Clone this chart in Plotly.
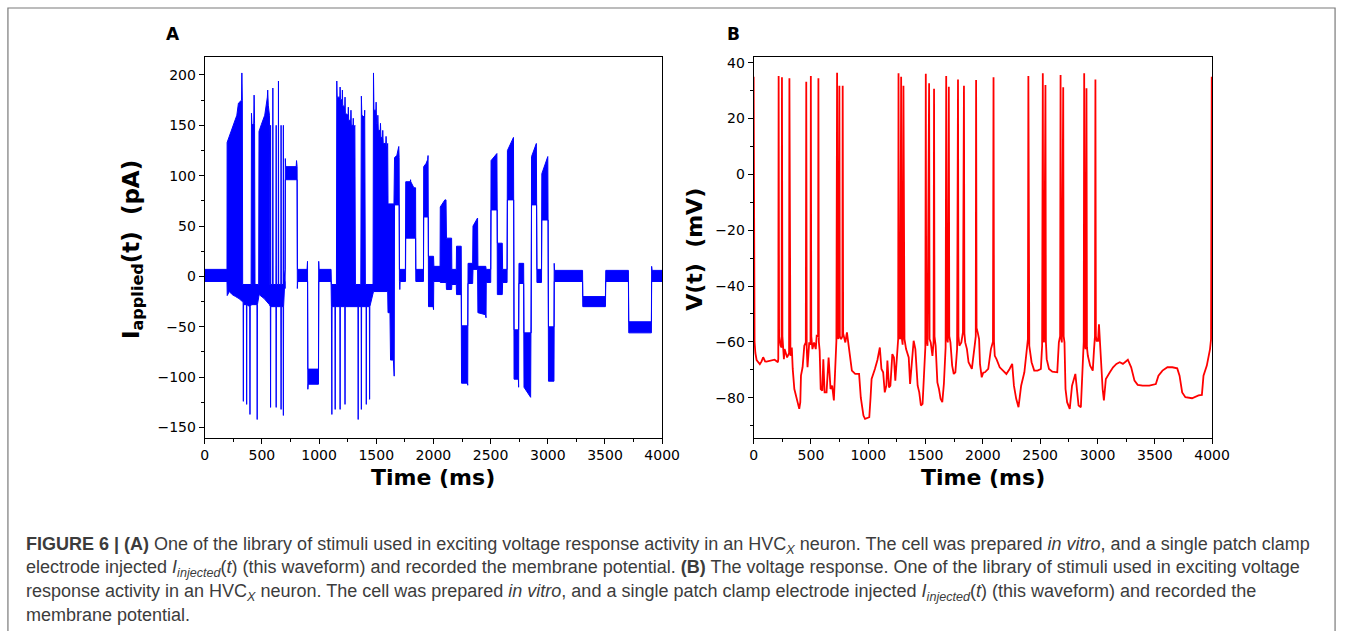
import plotly.graph_objects as go

W, H = 1357, 631

# ---------------- data ----------------
# Panel A: applied current (pA) vs time (ms); the dense trace is described by
# its upper and lower edges (t, value).
A_UPPER = [
    (0, 7), (195, 7),
    (196, 133), (218, 140), (238, 146), (252, 150), (267, 154), (281, 160), (295, 172),
    (322, 175), (325, 202), (329, 175), (332, -8),
    (406, -8), (409, 162), (413, 150), (429, 152), (432, 180), (436, 152), (440, -8),
    (472, -8), (475, 144), (496, 151), (525, 160), (548, 178), (551, 185), (556, 170),
    (566, 160), (570, -8),
    (574, -8), (576, 150), (578, -8), (594, -8), (596, 187), (598, -8),
    (623, -8), (625, 150), (627, -8), (643, -8), (645, 194), (647, -8),
    (666, -8), (668, 150), (670, -8), (686, -8), (688, 150), (690, -8),
    (703, 7), (705, 117), (708, 109), (800, 109), (803, 115), (808, 109), (811, 7),
    (895, 7), (899, 15), (902, -92), (995, -92), (997, 15), (1000, 7),
    (1105, 7), (1108, -8), (1152, -8),
    (1155, 194), (1158, 178), (1182, 178), (1184, 188), (1187, 176), (1202, 175),
    (1204, 185), (1207, 170), (1225, 168), (1227, 178), (1230, 162), (1254, 160),
    (1256, 168), (1259, 155), (1277, 155), (1279, 165), (1282, 150), (1297, 150),
    (1299, 157), (1302, 145), (1313, 150), (1318, -8),
    (1365, -8), (1370, 179), (1374, 160), (1397, 158), (1399, 165), (1405, -8),
    (1472, -8), (1476, 202), (1480, 165), (1497, 165), (1499, 173), (1503, 152),
    (1512, 152), (1514, 160), (1518, 145), (1535, 145), (1537, 152), (1541, 138),
    (1555, 138), (1557, 145), (1561, 132), (1584, 132), (1586, 139), (1590, 126),
    (1600, 132),
    (1603, 72), (1655, 72), (1660, 118), (1680, 120), (1697, 129), (1700, 118), (1703, 7),
    (1755, 7), (1758, 94), (1798, 94), (1800, 96), (1802, 94), (1829, 88), (1844, 88),
    (1846, 7), (1913, 7), (1915, 109), (1935, 112), (1950, 116), (1953, 120),
    (1956, 20), (2001, 20), (2004, 10), (2058, 10),
    (2060, 69), (2100, 76), (2110, 76), (2114, 38), (2159, 38), (2161, 7),
    (2200, 7), (2202, 30), (2243, 30), (2246, -49), (2300, -49), (2303, 13),
    (2343, 13), (2346, 50), (2386, 58), (2389, 10), (2458, 10), (2461, 7),
    (2501, 7), (2504, 115), (2555, 122), (2559, 33), (2602, 33), (2605, 7),
    (2644, 7), (2647, 125), (2700, 138), (2705, -53), (2745, -53), (2748, 13),
    (2789, 13), (2792, -56), (2855, -56), (2858, 119), (2900, 132), (2905, 7),
    (2945, 7), (2948, 102), (3000, 119), (3006, -50), (3054, -50), (3056, 13),
    (3059, 6), (3304, 6), (3306, -20), (3504, -20), (3507, 6),
    (3705, 6), (3708, -45), (3906, -45), (3908, 10), (3912, 6), (4000, 6),
]
A_LOWER = [
    (0, -5), (195, -5),
    (197, -19), (215, -15), (240, -18), (270, -20), (300, -22), (330, -25),
    (336, -25), (338, -124), (340, -28), (365, -28), (367, -127), (369, -28),
    (394, -30), (396, -137), (398, -30), (408, -28), (430, -28),
    (457, -28), (459, -142), (461, -28), (476, -18), (520, -22), (566, -28),
    (574, -30), (576, -130), (578, -30), (623, -30), (625, -130), (627, -30),
    (666, -30), (668, -132), (670, -30), (686, -30), (688, -138), (690, -30),
    (700, -5), (703, -12), (705, 96), (808, 96), (810, -12), (813, -5),
    (900, -5), (902, -112), (905, -107), (995, -107), (998, -5),
    (1105, -5), (1108, -30), (1110, -30), (1112, -137), (1114, -30),
    (1139, -30), (1141, -132), (1143, -30), (1182, -30), (1184, -132), (1186, -30),
    (1225, -30), (1227, -127), (1229, -30), (1340, -30), (1342, -142), (1344, -30),
    (1368, -30), (1370, -132), (1372, -30), (1411, -30), (1413, -127), (1415, -30),
    (1440, -30), (1442, -122), (1444, -30), (1476, -15), (1600, -15),
    (1603, -36), (1620, -36), (1625, -83), (1650, -83), (1657, -99), (1660, 71),
    (1700, 71), (1703, -5), (1706, -13), (1709, -5),
    (1756, -5), (1758, 38), (1844, 38), (1846, -5),
    (1913, -5), (1915, 59), (1955, 59), (1957, -30), (1998, -30), (2001, -33), (2003, -5),
    (2058, -5), (2060, -6), (2112, -6), (2114, -13), (2159, -13), (2161, -8),
    (2200, -8), (2202, -18), (2243, -18), (2246, -106), (2298, -106), (2300, -108),
    (2302, -7), (2343, -7), (2346, 7), (2386, 7), (2389, -36), (2455, -38),
    (2460, -41), (2462, -6), (2501, -6), (2504, 66), (2557, 66), (2559, -18),
    (2602, -18), (2605, -6), (2644, -6), (2647, 76), (2702, 76), (2705, -102),
    (2743, -102), (2745, -110), (2747, -7), (2789, -7), (2792, -110), (2850, -120),
    (2855, -115), (2858, 71), (2902, 71), (2905, -6), (2945, -6), (2948, 56),
    (3003, 56), (3006, -104), (3054, -104), (3057, -5), (3304, -5), (3306, -30),
    (3504, -30), (3507, -5), (3705, -5), (3708, -56), (3906, -56), (3908, -5), (4000, -5),
]

# Panel B: membrane voltage (mV) vs time (ms)
B_TRACE = [
    (0, 35), (3, -50), (8, -60), (15, -64), (26, -66.5), (54, -68), (69, -67), (83, -65.5),
    (100, -67), (112, -67.1), (155, -66.7), (183, -66.4), (212, -67.3),
    (215, -66), (218, 35.2), (222, -58), (235, -61.4), (244, -62),
    (247, 34.8), (251, -58), (264, -66.2), (270, -62.6), (292, -65.6), (309, -64),
    (312, 34.4), (316, -60), (321, -65), (333, -62), (341, -69.7), (355, -76.9),
    (370, -79.8), (384, -82.2), (398, -84), (407, -81.6), (413, -72.1), (427, -69.1),
    (442, -61.4), (455, -60.2), (459, 33.2), (463, -62), (470, -69.1), (485, -60.2),
    (496, -61), (499, 35.2), (503, -58), (513, -62.6), (527, -60.2), (542, -62.6),
    (550, -57.8), (562, -58), (565, 34.4), (569, -60), (576, -63.2), (585, -76.9),
    (599, -77.5), (608, -66.2), (619, -78.1), (636, -78.1), (654, -65.6), (671, -76.9),
    (685, -75.7), (700, -81), (714, -65), (722, -59.6), (728, 36.4), (733, -58),
    (740, -59), (748, 31.7), (752, -58), (763, -59), (774, -58), (777, 31.7), (781, -57),
    (786, -57.8), (800, -60.2), (814, -56.6), (829, -61.4), (843, -67.3), (857, -70.3),
    (886, -71.5), (920, -71.5), (935, -80), (958, -86.4), (972, -87.6), (1009, -87),
    (1020, -80), (1029, -73.3), (1058, -69.7), (1080, -66.5), (1101, -62), (1115, -69.7),
    (1130, -70.9), (1144, -78.1), (1158, -75.7), (1167, -66.7), (1181, -76.3),
    (1193, -75.7), (1210, -64.4), (1224, -65.6), (1236, -73.9), (1253, -60.8),
    (1261, -59), (1264, 36.2), (1268, -58), (1279, -59), (1287, 35), (1291, -58),
    (1300, -61), (1307, 31.7), (1311, -59), (1316, -59), (1330, -62.6), (1353, -65.6),
    (1365, -75.1), (1382, -67.1), (1396, -59.6), (1411, -62.6), (1431, -75.7),
    (1445, -78.1), (1459, -82.8), (1474, -82.2), (1488, -69.7), (1498, -62),
    (1502, 36), (1506, -58), (1517, -61.4), (1531, 32.6), (1535, -59), (1545, -60.2),
    (1560, -65), (1570, -60), (1574, 30.7), (1578, -58), (1588, -61.4), (1603, -74.5),
    (1617, -76.9), (1631, -80.4), (1646, -81.6), (1660, -75), (1675, -62),
    (1680, 35.2), (1684, -58), (1694, -60.2), (1703, 31.4), (1707, -58), (1717, -60.2),
    (1732, -68.5), (1746, -71.5), (1760, -70.9), (1775, -62.6), (1783, 34), (1787, -58),
    (1795, -61.4), (1812, -60.2), (1826, -56.6), (1835, 31.7), (1839, -57),
    (1846, -60.2), (1861, -62.6), (1875, -67.3), (1904, -69.7), (1932, -60.2),
    (1938, -58), (1941, 33.8), (1945, -55), (1955, -56.6), (1967, -59), (1975, -68),
    (1990, -72.7), (2004, -71), (2018, -70.9), (2047, -69.7), (2070, -62.6), (2088, -60),
    (2093, 34.8), (2097, -60), (2104, -65), (2119, -66.2), (2147, -69.1), (2176, -70.3),
    (2205, -71.5), (2233, -69.7), (2256, -67.9), (2271, -75.7), (2291, -80.4),
    (2311, -83.4), (2334, -75.7), (2362, -70.9), (2385, -62.6), (2393, -59),
    (2397, 35.2), (2401, -58), (2405, -61.4), (2425, -67.3), (2448, -70.3),
    (2477, -70.3), (2506, -69.7), (2517, -61.4), (2523, 36.2), (2528, -58),
    (2534, -60.2), (2546, 32), (2550, -60), (2557, -66.2), (2577, -69.7), (2606, -70.7),
    (2649, -70.9), (2663, -60.2), (2674, -58), (2678, 35.6), (2682, -58), (2689, -60.2),
    (2701, 31.2), (2705, -58), (2712, -60.2), (2721, -76.9), (2735, -81.6), (2758, -84),
    (2778, -75.7), (2807, -71.5), (2821, -78.1), (2835, -82.8), (2855, -83.4),
    (2873, -67.9), (2880, -60), (2884, 36.2), (2888, -60), (2896, -62.6), (2904, 30.8),
    (2908, -62), (2916, -65), (2936, -68.5), (2959, -70.3), (2970, -62.6), (2978, -58),
    (2982, 34), (2986, -58), (2993, -59.6), (3005, -59.6), (3013, -53.7), (3028, -65),
    (3045, -76.9), (3056, -81), (3073, -73.3), (3108, -70.9), (3136, -69.1),
    (3165, -67.9), (3194, -67.3), (3222, -67.9), (3265, -66.4), (3294, -69.1),
    (3323, -73.9), (3351, -75.4), (3394, -75.7), (3452, -75.7), (3509, -75.1),
    (3532, -72.1), (3567, -70.3), (3610, -69.1), (3653, -69.1), (3696, -69.5),
    (3716, -72.1), (3739, -78.1), (3767, -79.8), (3825, -80.2), (3882, -79.2),
    (3911, -79), (3925, -72.1), (3954, -68.5), (3982, -62.6), (3991, -59), (3997, 35),
]

X_TICKS = [0, 500, 1000, 1500, 2000, 2500, 3000, 3500, 4000]
A_Y_TICKS = [-150, -100, -50, 0, 50, 100, 150, 200]
B_Y_TICKS = [-80, -60, -40, -20, 0, 20, 40]

CAPTION = [
    "<b>FIGURE 6 | (A)</b> One of the library of stimuli used in exciting voltage response activity in an HVC<sub><i>X</i></sub> neuron. The cell was prepared <i>in vitro</i>, and a single patch clamp",
    "electrode injected <i>I<sub>injected</sub></i>(<i>t</i>) (this waveform) and recorded the membrane potential. <b>(B)</b> The voltage response. One of the library of stimuli used in exciting voltage",
    "response activity in an HVC<sub><i>X</i></sub> neuron. The cell was prepared <i>in vitro</i>, and a single patch clamp electrode injected <i>I<sub>injected</sub></i>(<i>t</i>) (this waveform) and recorded the",
    "membrane potential.",
]

# ---------------- layout helpers ----------------
def px(x):
    return x / W

def py(y):
    return 1 - y / H

A_X = (204, 669)
B_X = (762, 1228)
PLOT_Y = (55, 437)

FONT = "DejaVu Sans"

fig = go.Figure()

poly_t = [p[0] for p in A_UPPER] + [p[0] for p in reversed(A_LOWER)]
poly_v = [p[1] for p in A_UPPER] + [p[1] for p in reversed(A_LOWER)]
fig.add_trace(go.Scatter(
    x=poly_t, y=poly_v, mode="lines", fill="toself",
    fillcolor="#0000ff", line=dict(color="#0000ff", width=1),
    xaxis="x", yaxis="y", hoverinfo="skip", showlegend=False,
))
fig.add_trace(go.Scatter(
    x=[p[0] for p in B_TRACE], y=[p[1] for p in B_TRACE], mode="lines",
    line=dict(color="#ff0000", width=1.8),
    xaxis="x2", yaxis="y2", hoverinfo="skip", showlegend=False,
))

def xaxis(dom, anchor):
    return dict(
        domain=[px(dom[0]), px(dom[1])], anchor=anchor, range=[0, 4000],
        tickmode="array", tickvals=X_TICKS, ticktext=[str(v) for v in X_TICKS],
        ticks="outside", ticklen=5, tickwidth=1, tickcolor="black",
        minor=dict(ticks="outside", ticklen=3, tickwidth=1, tickcolor="black", dtick=250, tick0=0, showgrid=False),
        showline=True, linecolor="black", linewidth=1, mirror=True,
        showgrid=False, zeroline=False,
        tickfont=dict(family=FONT, size=14, color="black"),
    )

def yaxis(rng, vals, minor_dtick, anchor):
    return dict(
        domain=[py(PLOT_Y[1]), py(PLOT_Y[0])], anchor=anchor, range=rng,
        tickmode="array", tickvals=vals,
        ticks="outside", ticklen=5, tickwidth=1, tickcolor="black",
        minor=dict(ticks="outside", ticklen=3, tickwidth=1, tickcolor="black", dtick=minor_dtick, tick0=0, showgrid=False),
        showline=True, linecolor="black", linewidth=1, mirror=True,
        showgrid=False, zeroline=False,
        tickfont=dict(family=FONT, size=14, color="black"),
    )

annotations = []
def ann(text, x, y, size, angle=0, xanchor="center", yanchor="middle", family=FONT, color="black"):
    annotations.append(dict(
        text=text, x=px(x), y=py(y), xref="paper", yref="paper", showarrow=False,
        xanchor=xanchor, yanchor=yanchor, textangle=angle,
        font=dict(family=family, size=size, color=color),
    ))

ann("<b>A</b>", 172, 32, 17)
ann("<b>B</b>", 742, 32, 17)
ann("<b>Time (ms)</b>", 436.5, 477, 22)
ann("<b>Time (ms)</b>", 995, 477, 22)
ann("<b>I<sub>applied</sub>(t)  (pA)</b>", 131, 248, 23, angle=-90)
ann("<b>V(t)  (mV)</b>", 702, 248, 22, angle=-90)

cap_y = [545, 568, 592, 615]
for line, yy in zip(CAPTION, cap_y):
    ann(line, 20, yy, 18, xanchor="left", family="Liberation Sans", color="#3c3c3c")

# outer frame of the figure (left, top and right sides; the bottom runs off the page)
frame_path = "M {l},{b} L {l},{t} L {r},{t} L {r},{b}".format(
    l=px(4), r=px(1353), t=py(6), b=0)

fig.update_layout(
    width=W, height=H, autosize=False,
    margin=dict(l=0, r=0, t=0, b=0),
    paper_bgcolor="white", plot_bgcolor="white",
    xaxis=xaxis(A_X, "y"),
    yaxis=yaxis([-160, 218], A_Y_TICKS, 25, "x"),
    xaxis2=xaxis(B_X, "y2"),
    yaxis2=yaxis([-94.3, 42.1], B_Y_TICKS, 10, "x2"),
    annotations=annotations,
    shapes=[dict(type="path", xref="paper", yref="paper", path=frame_path,
                 line=dict(color="#7a7a7a", width=1.2))],
    showlegend=False,
)

fig.write_html("out.html", config={"responsive": False})
